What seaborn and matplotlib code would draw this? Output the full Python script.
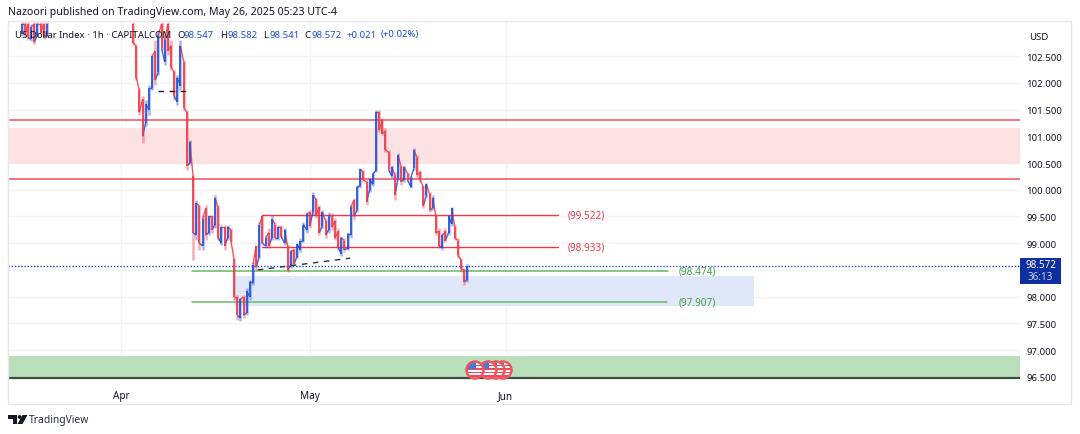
import matplotlib
matplotlib.use("Agg")
import matplotlib.pyplot as plt
import matplotlib.dates as mdates
from matplotlib.patches import Circle, Rectangle, Polygon
import numpy as np
import pandas as pd
import seaborn as sns

# ---------- data ----------
early_start = "2025-03-16 06:00"
early_high = [103.14, 103.14, 103.14, 103.10, 103.14, 103.14, 103.14, 103.14, 103.14]
early_low = [102.88, 102.85, 102.80, 102.78, 102.72, 102.85, 102.90, 102.82, 102.85]
early_open = [102.92, 103.10, 103.10, 102.82, 103.10, 102.90, 103.10, 103.10, 102.88]
early_close = [103.10, 102.90, 102.85, 103.05, 102.76, 103.10, 102.94, 102.86, 103.10]

main_start = "2025-04-02 22:00"
main_high = [103.14, 102.71, 101.90, 101.75, 101.68, 101.96, 102.52, 102.80, 102.99, 103.14,
             102.90, 103.14, 102.80, 102.24, 102.15, 102.80, 102.43, 101.49, 100.93, 100.28,
             99.81, 99.72, 99.53, 99.72, 99.53, 99.53, 99.90, 99.72, 99.34, 99.34,
             99.34, 99.28, 98.72, 98.03, 97.98, 98.03, 98.16, 98.31, 98.65, 98.97,
             99.40, 99.53, 99.15, 99.28, 99.53, 99.40, 99.34, 99.34, 99.28, 98.97,
             98.87, 98.91, 99.00, 99.10, 99.40, 99.58, 99.62, 99.96, 99.85, 99.72,
             99.62, 99.47, 99.58, 99.56, 99.47, 99.28, 99.13, 99.10, 99.20, 99.72,
             99.85, 100.09, 100.41, 100.37, 100.18, 100.22, 100.33, 101.49, 101.49, 101.34,
             101.15, 100.74, 100.46, 100.33, 100.69, 100.46, 100.46, 100.33, 100.26, 100.78,
             100.65, 100.37, 100.09, 100.13, 99.96, 99.90, 99.53, 99.28, 99.20, 99.28,
             99.53, 99.68, 99.34, 99.10, 98.72, 98.54, 98.61]
main_low = [102.71, 102.05, 101.40, 100.88, 101.20, 101.40, 101.86, 101.96, 102.15, 102.61,
            102.33, 102.52, 102.24, 101.68, 101.58, 101.86, 101.49, 100.37, 100.46, 98.69,
            99.06, 98.87, 98.87, 99.06, 99.15, 99.20, 99.28, 99.06, 98.97, 98.87,
            99.06, 99.02, 97.94, 97.57, 97.55, 97.60, 97.66, 97.94, 98.22, 98.50,
            98.72, 98.97, 98.91, 98.91, 99.06, 99.06, 99.06, 99.10, 98.97, 98.47,
            98.54, 98.59, 98.72, 98.84, 99.02, 99.20, 99.28, 99.53, 99.47, 99.15,
            99.28, 99.10, 99.20, 99.25, 99.06, 98.87, 98.76, 98.84, 98.87, 99.10,
            99.43, 99.58, 100.03, 100.15, 99.72, 99.96, 100.07, 100.33, 101.08, 101.02,
            100.71, 100.33, 100.22, 99.81, 100.18, 100.09, 100.15, 100.15, 100.03, 100.37,
            100.22, 100.15, 99.66, 99.86, 99.58, 99.62, 99.15, 98.91, 98.87, 99.02,
            99.15, 99.32, 99.06, 98.72, 98.47, 98.22, 98.28]
main_open = [103.10, 102.70, 101.85, 101.70, 101.25, 101.50, 101.90, 102.60, 102.20, 103.10,
             102.40, 103.10, 102.70, 102.20, 101.65, 101.95, 102.40, 101.45, 100.50, 100.25,
             99.15, 99.70, 98.95, 99.65, 99.20, 99.50, 99.35, 99.65, 99.00, 99.30,
             99.10, 99.25, 98.70, 98.00, 97.60, 98.00, 97.70, 98.00, 98.25, 98.95,
             98.75, 99.50, 98.95, 99.20, 99.10, 99.35, 99.10, 99.30, 99.00, 98.95,
             98.60, 98.88, 98.75, 98.88, 99.05, 99.25, 99.58, 99.58, 99.82, 99.68,
             99.32, 99.42, 99.25, 99.52, 99.42, 99.22, 98.80, 99.05, 98.90, 99.15,
             99.80, 99.62, 100.07, 100.33, 100.15, 100.00, 100.10, 100.36, 101.45, 101.30,
             101.10, 100.70, 100.25, 100.28, 100.22, 100.42, 100.20, 100.30, 100.06, 100.40,
             100.60, 100.33, 100.05, 99.90, 99.92, 99.65, 99.50, 99.22, 98.92, 99.22,
             99.20, 99.36, 99.30, 99.05, 98.68, 98.50, 98.32]
main_close = [102.75, 102.10, 101.45, 101.00, 101.60, 101.90, 102.50, 102.05, 102.90, 102.65,
              102.80, 102.60, 102.30, 101.75, 102.10, 102.70, 101.55, 100.45, 100.90, 99.20,
              99.75, 99.00, 99.45, 99.15, 99.50, 99.25, 99.85, 99.10, 99.30, 98.95,
              99.30, 99.05, 98.00, 97.65, 97.95, 97.65, 98.10, 98.28, 98.60, 98.55,
              99.35, 99.00, 99.10, 98.95, 99.45, 99.10, 99.30, 99.12, 99.25, 98.50,
              98.85, 98.62, 98.98, 99.05, 99.35, 99.55, 99.32, 99.90, 99.52, 99.20,
              99.58, 99.15, 99.52, 99.30, 99.10, 98.92, 99.10, 98.88, 99.18, 99.68,
              99.50, 100.05, 100.38, 100.18, 99.78, 100.20, 100.30, 101.45, 101.12, 101.05,
              100.75, 100.38, 100.42, 99.90, 100.65, 100.15, 100.42, 100.18, 100.22, 100.75,
              100.28, 100.18, 99.70, 100.10, 99.62, 99.85, 99.20, 98.95, 99.15, 99.05,
              99.50, 99.65, 99.10, 98.78, 98.52, 98.28, 98.57]

price_ticks = [96.5, 97.0, 97.5, 98.0, 98.5, 99.0, 99.5, 100.0, 100.5, 101.0, 101.5, 102.0, 102.5]
month_dates = ["2025-04-01", "2025-05-01", "2025-06-01"]
month_labels = ["Apr", "May", "Jun"]

resistance_levels = [101.30, 100.20]
supply_zone = [100.48, 101.15]
demand_zone = [97.83, 98.39]
base_zone = [96.46, 96.88]
base_line = 96.47
last_price = 98.572
red_levels = [99.522, 98.933]
green_levels = [98.474, 97.907]
trend_prices = [98.50, 98.72]
trend_dates = ["2025-04-22 16:00", "2025-05-07 08:00"]
neck_price = 101.85
neck_dates = ["2025-04-06 20:00", "2025-04-11 10:00"]

header = "Nazoori published on TradingView.com, May 26, 2025 05:23 UTC-4"
symbol = "US Dollar Index \u00b7 1h \u00b7 CAPITALCOM"

# ---------- frame ----------
RED = "#f23645"
BLUE = "#1f4fd8"
palette = {"up": BLUE, "down": RED}
FONT = "Noto Sans"
DARK = "#131722"


def build_frames(dates, highs, lows, opens, closes, offset):
    wick_rows, body_rows, link_rows = [], [], []
    for i, (t, h, l, o, c) in enumerate(zip(dates, highs, lows, opens, closes)):
        side = "up" if c >= o else "down"
        wick_rows += [(t, h, offset + i, side), (t, l, offset + i, side)]
        body_rows += [(t, o, offset + i, side), (t, c, offset + i, side)]
        if i + 1 < len(dates):
            next_side = "up" if closes[i + 1] >= opens[i + 1] else "down"
            link_rows += [(t, c, offset + i, next_side), (dates[i + 1], opens[i + 1], offset + i, next_side)]
    cols = ["date", "price", "bar", "side"]
    return (pd.DataFrame(wick_rows, columns=cols), pd.DataFrame(body_rows, columns=cols),
            pd.DataFrame(link_rows, columns=cols))


early_dates = list(pd.date_range(early_start, periods=len(early_high), freq="12h"))
main_dates = list(pd.date_range(main_start, periods=len(main_high), freq="12h"))
f1 = build_frames(early_dates, early_high, early_low, early_open, early_close, 0)
f2 = build_frames(main_dates, main_high, main_low, main_open, main_close, 1000)
wicks, bodies, links = [pd.concat([a, b], ignore_index=True) for a, b in zip(f1, f2)]

sns.set_theme(style="white", rc={"font.family": FONT})
W, H = 1080, 435
fig = plt.figure(figsize=(W / 100, H / 100), dpi=100, facecolor="white")
ax = fig.add_axes([8 / W, 1 - 381 / H, (1020 - 8) / W, (381 - 23) / H])


def d(s):
    return mdates.date2num(pd.Timestamp(s))


x_left = d("2025-03-14 02:00")
x_right = d("2025-08-21 12:00")

# zones
ax.axhspan(supply_zone[0], supply_zone[1], color="#fde2e4", lw=0, zorder=1)
ax.axhspan(base_zone[0], base_zone[1], color="#b9dfba", lw=0, zorder=1)
ax.fill_between([d("2025-04-18 22:00"), d("2025-07-10 08:00")], demand_zone[0], demand_zone[1],
                color="#e0e7f8", lw=0, zorder=1)

# levels
for lv in resistance_levels:
    ax.axhline(lv, color="#f4696f", lw=1.3, zorder=2)
ax.axhline(base_line, color="#3f4a44", lw=1.6, zorder=2)
ax.axhline(last_price, color="#2a4fc4", lw=1.0, ls=(0, (1, 1.3)), zorder=2)
ax.plot([d("2025-04-23 08:00"), d("2025-06-09 06:00")], [red_levels[0]] * 2, color=RED, lw=1, zorder=2)
ax.plot([d("2025-04-23 08:00"), d("2025-06-09 06:00")], [red_levels[1]] * 2, color=RED, lw=1, zorder=2)
ax.plot([d("2025-04-12 06:00"), d("2025-06-26 18:00")], [green_levels[0]] * 2, color="#66bb6a", lw=1.1, zorder=2)
ax.plot([d("2025-04-12 06:00"), d("2025-06-26 12:00")], [green_levels[1]] * 2, color="#66bb6a", lw=1.1, zorder=2)
ax.plot([d(t) for t in trend_dates], trend_prices, color="#333333", lw=1, ls=(0, (4, 4)), zorder=4)
ax.plot([d(t) for t in neck_dates], [neck_price] * 2, color="#222222", lw=1, ls=(0, (4, 4)), zorder=4)

# candles
sns.lineplot(data=wicks, x="date", y="price", units="bar", hue="side", palette=palette, estimator=None,
             sort=False, lw=1.8, alpha=0.4, legend=False, ax=ax, zorder=3, solid_capstyle="butt")
sns.lineplot(data=links, x="date", y="price", units="bar", hue="side", palette=palette, estimator=None,
             sort=False, lw=1.0, alpha=0.85, legend=False, ax=ax, zorder=3.3, solid_capstyle="butt")
sns.lineplot(data=bodies, x="date", y="price", units="bar", hue="side", palette=palette, estimator=None,
             sort=False, lw=1.2, legend=False, ax=ax, zorder=3.5, solid_capstyle="butt")
ax.set_xlabel("")
ax.set_ylabel("")
ax.set_xlim(x_left, x_right)
ax.set_ylim(96.44, 103.14)

ax.set_yticks(price_ticks)
# the 98.500 label sits behind the last-price tag, as in the reference
ax.set_yticklabels(["" if v == 98.5 else f"{v:.3f}" for v in price_ticks], fontsize=6.9, color=DARK)
ax.yaxis.tick_right()
ax.set_xticks([d(m) for m in month_dates])
ax.set_xticklabels(month_labels, fontsize=7.2, color=DARK, fontweight="medium")
ax.tick_params(axis="y", length=0, pad=4.5)
ax.tick_params(axis="x", length=0, pad=7)
ax.grid(True, color="#f4f4f5", lw=1)
ax.set_axisbelow(True)
for s in ax.spines.values():
    s.set_visible(False)

# level labels
for lv, lab_date, col in [(red_levels[0], "2025-06-10 18:00", RED), (red_levels[1], "2025-06-10 18:00", RED),
                          (green_levels[0], "2025-06-28 10:00", "#43a047"), (green_levels[1], "2025-06-28 10:00", "#43a047")]:
    ax.text(d(lab_date), lv, f"({lv:.3f})", color=col, fontsize=7.2, va="center", ha="left", zorder=5)

# ---------- overlay in reference pixels (chrome) ----------
ov = fig.add_axes([0, 0, 1, 1], facecolor="none")
ov.set_xlim(0, W)
ov.set_ylim(H, 0)
ov.axis("off")

ov.add_patch(Rectangle((8, 22), 1063, 383, fill=False, ec="#e6e7ea", lw=1))
ov.text(8, 12, header, fontsize=7.6, color=DARK, va="center", ha="left")
ov.text(15, 35, symbol, fontsize=6.9, color=DARK, va="center", ha="left")
BLUE_T = "#1f4fd8"
for x, s, c in [(177, "O", DARK), (184, "98.547", BLUE_T), (220, "H", DARK), (227, "98.582", BLUE_T),
                (263, "L", DARK), (269, "98.541", BLUE_T), (304, "C", DARK), (311, "98.572", BLUE_T),
                (347, "+0.021", BLUE_T), (381, "(+0.02%)", BLUE_T)]:
    ov.text(x, 35, s, fontsize=6.9, color=c, va="center", ha="left")
ov.text(1039, 37, "USD", fontsize=6.9, color=DARK, va="center", ha="center")

# last price tag
ov.add_patch(Rectangle((1020, 259), 41, 26, fc="#0d2f9f", ec="none"))
ov.text(1040.5, 266, "98.572", fontsize=7.1, color="white", va="center", ha="center", fontweight="bold")
ov.text(1040.5, 278, "36:13", fontsize=7.1, color="#c9d3f2", va="center", ha="center")

# event flags
for cx in [503, 496, 488, 475]:
    circ = Circle((cx, 371), 8.5, fc="white", ec="#f4535f", lw=1.5, zorder=6)
    ov.add_patch(circ)
    for sy in [366.5, 370, 373.5, 377]:
        r = Rectangle((cx - 9, sy - 0.9), 18, 1.8, fc="#ef4a57", ec="none", zorder=6)
        ov.add_patch(r)
        r.set_clip_path(circ)
    r = Rectangle((cx - 9, 362), 9.5, 8, fc="#4a78d8", ec="none", zorder=6)
    ov.add_patch(r)
    r.set_clip_path(circ)
    ov.add_patch(Circle((cx, 371), 8.5, fill=False, ec="#f4535f", lw=1.5, zorder=6))

# TradingView mark
ov.add_patch(Polygon([(8, 416), (17, 416), (17, 425), (12.5, 425), (12.5, 420), (8, 420)], fc=DARK, ec="none"))
ov.add_patch(Circle((19.6, 418), 1.9, fc=DARK, ec="none"))
ov.add_patch(Polygon([(22.5, 416), (27.5, 416), (22.5, 425), (17.5, 425)], fc=DARK, ec="none"))
ov.text(29, 421, "TradingView", fontsize=7.4, color="#2a2e39", va="center", ha="left")

fig.savefig("out.png", dpi=100, facecolor="white")
